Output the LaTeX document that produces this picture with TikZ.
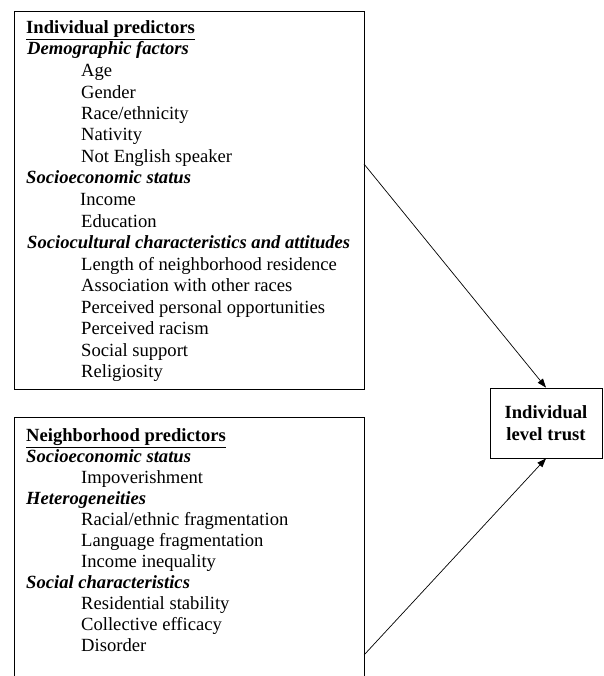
\documentclass[tikz,border=0pt]{standalone}
\usepackage{fontspec}
\setmainfont{Liberation Serif}
\usetikzlibrary{arrows.meta}
\begin{document}
\begin{tikzpicture}[x=1pt,y=-1pt,
  txt/.style={anchor=base west,inner sep=0pt,font=\fontsize{18.6}{21}\selectfont},
  hd/.style={txt,font=\fontsize{18.6}{21}\selectfont\bfseries},
  sub/.style={txt,font=\fontsize{18.6}{21}\selectfont\bfseries\itshape},
  box/.style={draw,line width=0.8pt,inner sep=0pt,anchor=north west},
  arr/.style={line width=0.7pt,-{Triangle[length=9pt,width=6.5pt]}}]
\clip (0,0) rectangle (603,676);
% box 1
\node[box,minimum width=350pt,minimum height=378pt] (b1) at (14,11) {};
\node[hd]  (a0)  at (26,33.5) {\underline{Individual predictors}};
\node[sub] (a1)  at (27,55)   {Demographic factors};
\node[txt] (a2)  at (81,77)   {Age};
\node[txt] (a3)  at (81,98.5) {Gender};
\node[txt] (a4)  at (81,120)  {Race/ethnicity};
\node[txt] (a5)  at (81,141)  {Nativity};
\node[txt] (a6)  at (81,162.5){Not English speaker};
\node[sub] (a7)  at (26,184)  {Socioeconomic status};
\node[txt] (a8)  at (80,205.5){Income};
\node[txt] (a9)  at (81,227)  {Education};
\node[sub] (a10) at (27,248.5){Sociocultural characteristics and attitudes};
\node[txt] (a11) at (81,270)  {Length of neighborhood residence};
\node[txt] (a12) at (81,291.5){Association with other races};
\node[txt] (a13) at (81,313)  {Perceived personal opportunities};
\node[txt] (a14) at (81,334.5){Perceived racism};
\node[txt] (a15) at (81,356)  {Social support};
\node[txt] (a16) at (81,377.5){Religiosity};
% box 2
\node[box,minimum width=350pt,minimum height=300pt] (b2) at (14,417) {};
\node[hd]  (c0)  at (26,441.5){\underline{Neighborhood predictors}};
\node[sub] (c1)  at (26,462.5){Socioeconomic status};
\node[txt] (c2)  at (81,483.5){Impoverishment};
\node[sub] (c3)  at (26,504.5){Heterogeneities};
\node[txt] (c4)  at (81,525.5){Racial/ethnic fragmentation};
\node[txt] (c5)  at (81,546.5){Language fragmentation};
\node[txt] (c6)  at (81,567.5){Income inequality};
\node[sub] (c7)  at (26,588.5){Social characteristics};
\node[txt] (c8)  at (81,609.5){Residential stability};
\node[txt] (c9)  at (81,630.5){Collective efficacy};
\node[txt] (c10) at (81,651.5){Disorder};
% trust box
\node[draw,line width=0.8pt,minimum width=112pt,minimum height=70pt,align=center,
      font=\fontsize{18.6}{22}\selectfont\bfseries] (trust) at (546,423) {Individual\\level trust};
% connectors
\coordinate (s1) at (364,164);
\coordinate (s2) at (364,655);
\draw[arr] (s1) -- (trust.north);
\draw[arr] (s2) -- (trust.south);
\end{tikzpicture}
\end{document}
